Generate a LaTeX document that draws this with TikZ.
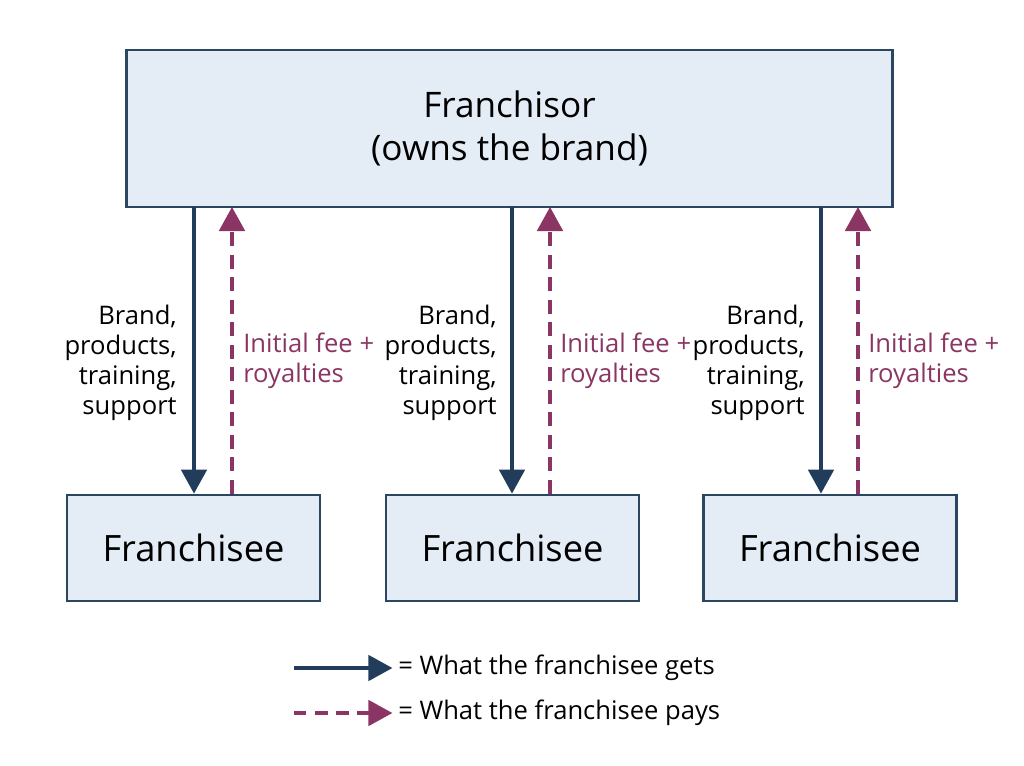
\documentclass[tikz,border=0pt]{standalone}
\usepackage{fontspec}
\setmainfont{Open Sans}
\usetikzlibrary{arrows.meta, positioning}
\usepackage{xcolor}
\definecolor{navyline}{HTML}{223D5C}
\definecolor{payred}{HTML}{8A3563}
\definecolor{boxfill}{HTML}{E4ECF5}
\definecolor{boxline}{HTML}{2C4560}

\begin{document}
\begin{tikzpicture}[x=0.025cm,y=-0.025cm,
    box/.style={draw=boxline,line width=2pt,fill=boxfill,align=center,inner sep=0pt},
    gets/.style={-{Triangle[length=6mm,width=6.4mm]},draw=navyline,line width=2.2pt},
    pays/.style={-{Triangle[length=6mm,width=6.4mm]},draw=payred,line width=2.2pt,dash pattern=on 10pt off 6pt},
    lbl/.style={font=\fontsize{18.2}{21.3}\selectfont,inner sep=0pt}]
    \useasboundingbox (0,0) rectangle (1024,765);
    \node[box,minimum width=19.125cm,minimum height=3.925cm,font=\fontsize{25}{31}\selectfont]
      (top) at (509.5,128.5) {Franchisor\\(owns the brand)};
    \node[box,minimum width=6.325cm,minimum height=2.65cm,font=\fontsize{25.8}{31}\selectfont]
      (f1) at (193.5,548) {Franchisee};
    \node[box,minimum width=6.325cm,minimum height=2.65cm,font=\fontsize{25.8}{31}\selectfont]
      (f2) at (512.5,548) {Franchisee};
    \node[box,minimum width=6.325cm,minimum height=2.65cm,font=\fontsize{25.8}{31}\selectfont]
      (f3) at (830,548) {Franchisee};
    % arrow positions on the franchisor's lower edge
    \coordinate (g1) at (194,207); \coordinate (p1) at (232,207);
    \coordinate (g2) at (512,207); \coordinate (p2) at (550,207);
    \coordinate (g3) at (821,207); \coordinate (p3) at (858,207);
    \draw[gets](g1)--(g1 |- f1.north);\draw[pays](p1 |- f1.north)--(p1);
    \draw[gets](g2)--(g2 |- f2.north);\draw[pays](p2 |- f2.north)--(p2);
    \draw[gets](g3)--(g3 |- f3.north);\draw[pays](p3 |- f3.north)--(p3);
    \node[lbl,align=right,anchor=east] (b1) at (177,363) {Brand,\\products,\\training,\\support};
    \node[lbl,align=right,anchor=east] (b2) at (497,363) {Brand,\\products,\\training,\\support};
    \node[lbl,align=right,anchor=east] (b3) at (805,363) {Brand,\\products,\\training,\\support};
    \node[lbl,align=left,anchor=west,text=payred] (r1) at (243,361) {Initial fee +\\royalties};
    \node[lbl,align=left,anchor=west,text=payred] (r2) at (560,361) {Initial fee +\\royalties};
    \node[lbl,align=left,anchor=west,text=payred] (r3) at (868,361) {Initial fee +\\royalties};
    % legend
    \node[lbl,anchor=west] (lg1) at (398,668) {= What the franchisee gets};
    \node[lbl,anchor=west] (lg2) at (398,713) {= What the franchisee pays};
    \coordinate (l1) at (298,668); \coordinate (l2) at (298,713);
    \draw[gets]([xshift=-3pt]l1)--([xshift=-4pt]lg1.west);
    \draw[pays,dash pattern=on 9pt off 6pt]([xshift=-3pt]l2)--([xshift=-4pt]lg2.west);
\end{tikzpicture}
\end{document}
